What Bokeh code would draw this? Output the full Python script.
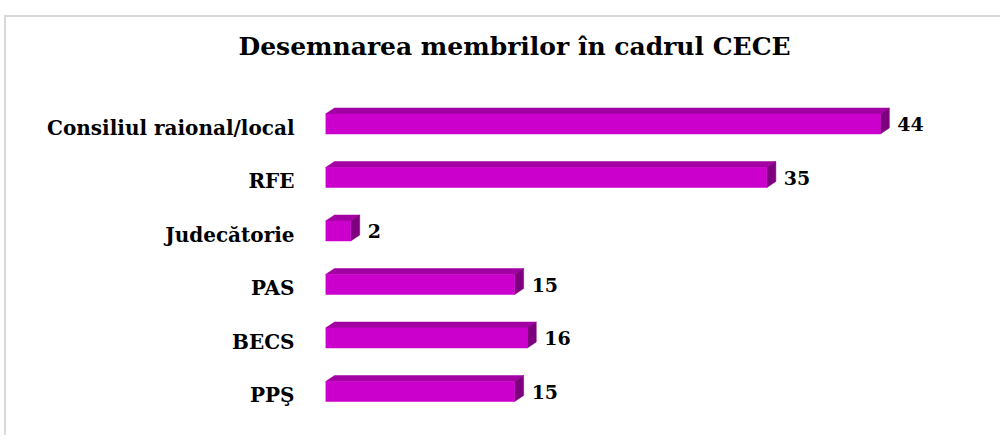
from bokeh.plotting import figure
from bokeh.models import (Range1d, FixedTicker, Title, ColumnDataSource)
from bokeh.core.properties import value
from bokeh.embed import file_html
from bokeh.resources import INLINE

# ---- data ----
categories = ["Consiliul raional/local", "RFE", "Judecătorie", "PAS", "BECS", "PPŞ"]
counts = [44, 35, 2, 15, 16, 15]
title_text = "Desemnarea membrilor în cadrul CECE"

# ---- style ----
FRONT = "#CC00CC"
TOP = "#A200A2"
SIDE = "#7E007E"
FONT = "DejaVu Serif"
X_PX = 12.61          # px per unit on x
Y_PX = 53.5           # px per category
FRONT_H = 20 / Y_PX   # front face height (category units)
SHIFT = 3.5 / Y_PX    # front face sits slightly above the label centre
DDX = 9 / X_PX        # 3D depth, x
DDY = 6 / Y_PX        # 3D depth, y

W, H = 1000, 435
LEFT = 325
TOPB = 73
BOTB = 8
RIGHTB = 10
frame_w = W - LEFT - RIGHTB
frame_h = H - TOPB - BOTB
x_end = frame_w / X_PX
y_top = -(127 - TOPB) / Y_PX
y_bottom = y_top + frame_h / Y_PX

idx = list(range(len(categories)))

p = figure(width=W, height=H, output_backend="svg", toolbar_location=None,
           x_range=Range1d(0, x_end), y_range=Range1d(y_bottom, y_top),
           x_axis_location=None, y_axis_location="left",
           min_border_left=LEFT, min_border_top=TOPB, min_border_bottom=BOTB,
           min_border_right=RIGHTB)
p.outline_line_color = None
p.grid.visible = False
p.background_fill_color = None
p.border_fill_color = None
# chart-area border (light grey frame at left/top, as in the reference)
p.styles = {
    "background-color": "white",
    "background-image": "linear-gradient(#D9D9D9, #D9D9D9), linear-gradient(#D9D9D9, #D9D9D9)",
    "background-position": "4px 15px, 4px 15px",
    "background-size": "2px 100%, 100% 2px",
    "background-repeat": "no-repeat",
}

ax = p.yaxis[0]
ax.ticker = FixedTicker(ticks=idx)
ax.major_label_overrides = {i: c for i, c in zip(idx, categories)}
ax.axis_line_color = None
ax.major_tick_line_color = None
ax.minor_tick_line_color = None
ax.major_tick_in = 0
ax.major_tick_out = 0
ax.major_label_standoff = 31
ax.major_label_text_font = FONT
ax.major_label_text_font_style = "bold"
ax.major_label_text_font_size = "20px"
ax.major_label_text_color = "#000000"

# bar geometry derived from data
yc = [i - SHIFT for i in idx]
ytop = [y - FRONT_H / 2 for y in yc]
ybot = [y + FRONT_H / 2 for y in yc]

top_xs = [[0, v, v + DDX, DDX] for v in counts]
top_ys = [[t, t, t - DDY, t - DDY] for t in ytop]
side_xs = [[v, v + DDX, v + DDX, v] for v in counts]
side_ys = [[t, t - DDY, b - DDY, b] for t, b in zip(ytop, ybot)]

p.patches(top_xs, top_ys, fill_color=TOP, line_color=TOP, line_width=0.5)
p.patches(side_xs, side_ys, fill_color=SIDE, line_color=SIDE, line_width=0.5)
src = ColumnDataSource(dict(y=yc, v=counts, lab=[str(c) for c in counts]))
p.hbar(y="y", right="v", left=0, height=FRONT_H, source=src,
       fill_color=FRONT, line_color=FRONT, line_width=0.5)
p.text(x="v", y="y", text="lab", source=src, x_offset=17,
       text_align="left", text_baseline="middle",
       text_font=value(FONT), text_font_style="bold", text_font_size="19px",
       text_color="#000000")

# title
t = Title(text=title_text, align="left", offset=-87, standoff=26,
          text_font=FONT, text_font_style="bold", text_font_size="25px",
          text_color="#000000")
p.add_layout(t, "above")

open("out.html", "w").write(file_html(p, INLINE))
